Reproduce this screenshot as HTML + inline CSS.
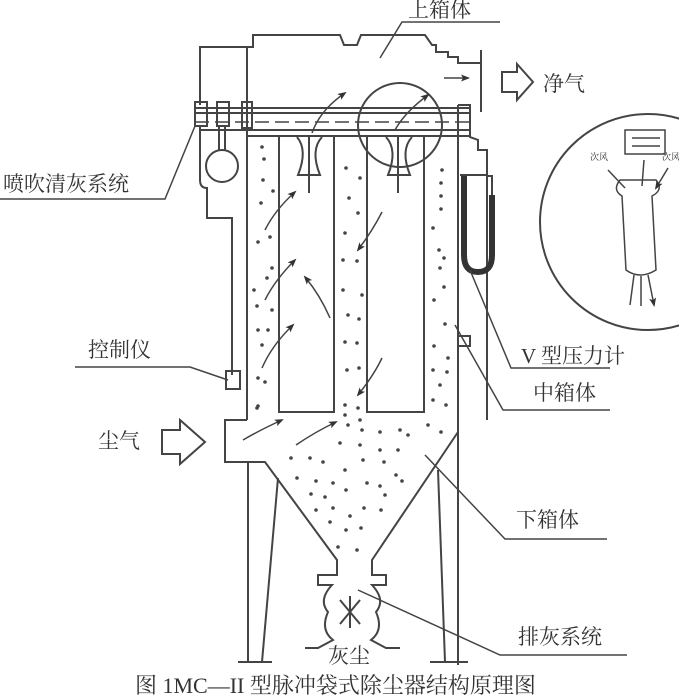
<!DOCTYPE html>
<html><head><meta charset="utf-8"><style>
html,body{margin:0;padding:0;background:#fff;}
svg{display:block}
text{font-family:"Liberation Serif","Noto Serif CJK SC",serif;fill:#333}
</style></head><body>
<svg width="679" height="696" viewBox="0 0 679 696" xmlns="http://www.w3.org/2000/svg">
<defs><marker id="a" markerWidth="9" markerHeight="9" refX="7" refY="4.5" orient="auto" markerUnits="userSpaceOnUse"><path d="M0,1 L9,4.5 L0,8 L2,4.5 Z" fill="#333"/></marker></defs>
<g fill="none" stroke="#444" stroke-width="2">
<path d="M247,137 V47 H253 V35 H340 L344,45 H357 L361,35 H425 L432,45 H436 V52 H448 V57 H458 V63 H480"/>
<path d="M481,50 V112"/>
<path d="M247,47 H200 V105"/>
<path d="M195,108 H470 M195,113 H470 M200,130 H470 M247,136 H470"/>
<path d="M195,122 H475" stroke-dasharray="14,6" stroke-width="1.5"/>
<rect x="195" y="102" width="12" height="24"/><rect x="217" y="102" width="12" height="24"/><rect x="242" y="102" width="10" height="26"/>
<circle cx="222" cy="166" r="16"/><path d="M219,126 V150 M225,126 V150"/>
<path d="M200,127 V180 Q200,188 207,188 V218 H232 V375" />
<rect x="226" y="371" width="14" height="18"/>
<path d="M247,136 V420 M458,105 V665 M458,105 H470 V137 L478,140 V150 H487 V420"/>
<path d="M472,175 H487"/>
<rect x="279" y="136" width="55" height="276"/>
<rect x="367" y="136" width="57" height="276"/>
<path d="M297,137 Q308,150 298,175 H320 Q310,150 322,137 M309,137 V193"/>
<path d="M386,137 Q398,150 388,175 H410 Q400,150 412,137 M398,137 V193"/>
<circle cx="400" cy="125" r="42"/>
<path d="M247,420 H225 V462 H265 L337,560 V575 H318 V585 H332 Q318,600 328,612 Q320,630 333,640 L318,648 H305"/>
<path d="M458,432 L372,560 V575 H386 V585 H372 Q386,600 376,612 Q384,630 371,640 L386,648 H400"/>
<path d="M340,600 L360,624 M360,600 L340,624 M350,596 V628"/>
<path d="M248,462 V662 M278,478 L262,662 M238,662 H272 M438,470 L445,662 M430,662 H468"/>
<path d="M464,175 V255 Q464,272 478,272 Q492,272 492,255 V195" stroke-width="6" stroke="#333"/>
<path d="M460,175 H472 M492,195 V176 H487"/>
<rect x="458" y="336" width="12" height="10"/>
<circle cx="648" cy="222" r="108"/>
<rect x="625" y="130" width="40" height="24" stroke-width="1.5"/>
<path d="M632,138 H660 M632,146 H660" stroke-width="1.5"/>
<path d="M620,180 Q612,190 622,196 L626,270 Q640,280 656,270 L652,196 Q664,190 656,180 Z" stroke-width="1.5"/>
<path d="M608,170 L625,188 M644,160 L642,186 M668,168 L656,188" marker-end="url(#a)" stroke-width="1.5"/>
<path d="M634,275 L630,305 M641,276 L641,306 M648,275 L654,305" marker-end="url(#a)" stroke-width="1.5"/>
<g stroke-width="1.5" marker-end="url(#a)">
<path d="M312,133 Q320,110 345,93"/><path d="M395,130 Q405,112 428,95"/>
<path d="M444,78 H468"/>
<path d="M265,230 Q275,210 295,192"/><path d="M265,300 Q275,280 295,260"/><path d="M262,368 Q272,345 293,325"/>
<path d="M330,318 Q320,295 305,277"/>
<path d="M382,212 Q373,230 358,250"/><path d="M382,358 Q374,375 358,395"/>
<path d="M243,440 Q260,430 282,420"/><path d="M296,445 Q315,432 336,422"/>
</g>
<g stroke-width="1.5">
<path d="M0,199 H165 L195,126"/>
<path d="M75,367 H190 L228,380"/>
<path d="M470,270 L511,368 H610"/>
<path d="M455,325 L503,410 H610"/>
<path d="M425,455 L505,539 H607"/>
<path d="M358,590 L500,655 H627"/>
<path d="M380,58 L402,22 H500"/>
</g>
<path d="M502,72 H517 V64 L533,82 L517,100 V92 H502 Z"/>
<path d="M162,430 H180 V420 L205,442 L180,464 V454 H162 Z"/>
</g>
<g fill="#444">
<circle cx="262" cy="147" r="1.8"/><circle cx="264" cy="159" r="1.8"/><circle cx="263" cy="180" r="1.8"/><circle cx="273" cy="191" r="1.8"/><circle cx="261" cy="203" r="1.8"/><circle cx="258" cy="242" r="1.8"/><circle cx="270" cy="237" r="1.8"/><circle cx="272" cy="268" r="1.8"/><circle cx="267" cy="278" r="1.8"/><circle cx="254" cy="290" r="1.8"/><circle cx="257" cy="306" r="1.8"/><circle cx="272" cy="310" r="1.8"/><circle cx="258" cy="330" r="1.8"/><circle cx="268" cy="330" r="1.8"/><circle cx="262" cy="345" r="1.8"/><circle cx="258" cy="378" r="1.8"/><circle cx="265" cy="382" r="1.8"/><circle cx="257" cy="408" r="1.8"/>
<circle cx="346" cy="168" r="1.8"/><circle cx="360" cy="178" r="1.8"/><circle cx="349" cy="198" r="1.8"/><circle cx="358" cy="213" r="1.8"/><circle cx="345" cy="233" r="1.8"/><circle cx="343" cy="260" r="1.8"/><circle cx="357" cy="261" r="1.8"/><circle cx="343" cy="290" r="1.8"/><circle cx="362" cy="295" r="1.8"/><circle cx="348" cy="315" r="1.8"/><circle cx="359" cy="319" r="1.8"/><circle cx="345" cy="342" r="1.8"/><circle cx="357" cy="343" r="1.8"/><circle cx="347" cy="370" r="1.8"/><circle cx="359" cy="368" r="1.8"/><circle cx="345" cy="405" r="1.8"/><circle cx="358" cy="408" r="1.8"/>
<circle cx="442" cy="170" r="1.8"/><circle cx="441" cy="183" r="1.8"/><circle cx="441" cy="196" r="1.8"/><circle cx="441" cy="209" r="1.8"/><circle cx="433" cy="228" r="1.8"/><circle cx="439" cy="250" r="1.8"/><circle cx="444" cy="258" r="1.8"/><circle cx="440" cy="268" r="1.8"/><circle cx="444" cy="287" r="1.8"/><circle cx="434" cy="300" r="1.8"/><circle cx="445" cy="324" r="1.8"/><circle cx="434" cy="346" r="1.8"/><circle cx="448" cy="358" r="1.8"/><circle cx="433" cy="370" r="1.8"/><circle cx="447" cy="372" r="1.8"/><circle cx="440" cy="385" r="1.8"/><circle cx="433" cy="400" r="1.8"/><circle cx="446" cy="405" r="1.8"/>
<circle cx="258" cy="406" r="1.8"/><circle cx="345" cy="415" r="1.8"/><circle cx="360" cy="420" r="1.8"/><circle cx="348" cy="425" r="1.8"/><circle cx="362" cy="430" r="1.8"/><circle cx="380" cy="432" r="1.8"/><circle cx="400" cy="430" r="1.8"/><circle cx="408" cy="435" r="1.8"/><circle cx="428" cy="425" r="1.8"/><circle cx="441" cy="432" r="1.8"/>
<circle cx="340" cy="443" r="1.8"/><circle cx="360" cy="445" r="1.8"/><circle cx="380" cy="450" r="1.8"/><circle cx="398" cy="450" r="1.8"/><circle cx="291" cy="458" r="1.8"/><circle cx="310" cy="458" r="1.8"/><circle cx="323" cy="462" r="1.8"/><circle cx="363" cy="460" r="1.8"/><circle cx="384" cy="462" r="1.8"/><circle cx="345" cy="470" r="1.8"/><circle cx="396" cy="475" r="1.8"/><circle cx="402" cy="481" r="1.8"/><circle cx="297" cy="478" r="1.8"/><circle cx="316" cy="481" r="1.8"/><circle cx="333" cy="483" r="1.8"/><circle cx="367" cy="483" r="1.8"/><circle cx="380" cy="486" r="1.8"/><circle cx="311" cy="494" r="1.8"/><circle cx="325" cy="497" r="1.8"/><circle cx="346" cy="490" r="1.8"/><circle cx="385" cy="495" r="1.8"/><circle cx="333" cy="508" r="1.8"/><circle cx="364" cy="508" r="1.8"/><circle cx="381" cy="510" r="1.8"/><circle cx="316" cy="510" r="1.8"/><circle cx="330" cy="522" r="1.8"/><circle cx="350" cy="516" r="1.8"/><circle cx="361" cy="528" r="1.8"/><circle cx="346" cy="530" r="1.8"/><circle cx="338" cy="547" r="1.8"/><circle cx="357" cy="550" r="1.8"/>
</g>
<g font-size="21">
<text x="408" y="17">上箱体</text>
<text x="543" y="91">净气</text>
<text x="3" y="191">喷吹清灰系统</text>
<text x="88" y="357">控制仪</text>
<text x="98" y="448">尘气</text>
<text x="521" y="363">V 型压力计</text>
<text x="533" y="400">中箱体</text>
<text x="516" y="527">下箱体</text>
<text x="518" y="644">排灰系统</text>
<text x="328" y="663">灰尘</text>
<text x="135" y="693" font-size="22">图 1MC—II 型脉冲袋式除尘器结构原理图</text>
<text x="590" y="160" font-size="9">次风</text><text x="662" y="160" font-size="9">次风</text>
</g>
</svg>
</body></html>
